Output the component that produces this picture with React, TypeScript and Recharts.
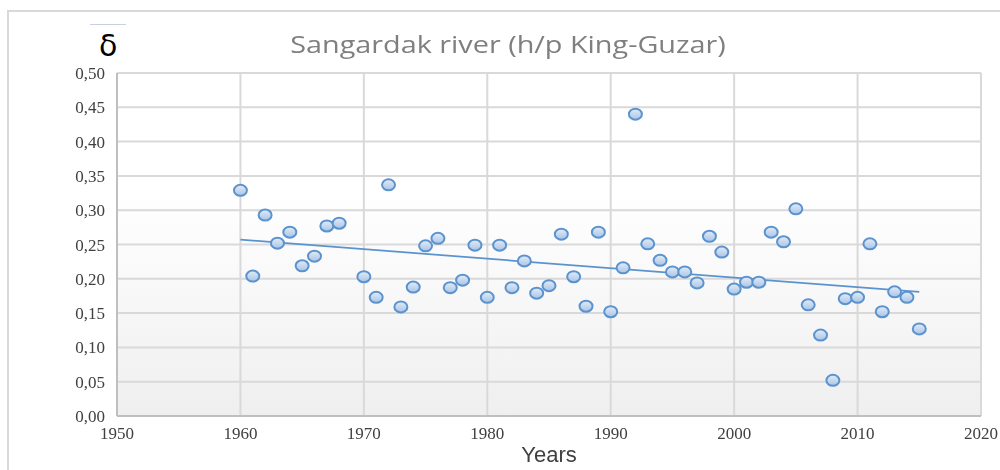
import { CartesianGrid, Scatter, ScatterChart, XAxis, YAxis } from 'recharts';

const years = [
  1960, 1961, 1962, 1963, 1964, 1965, 1966, 1967, 1968, 1970, 1971, 1972, 1973, 1974,
  1975, 1976, 1977, 1978, 1979, 1980, 1981, 1982, 1983, 1984, 1985, 1986, 1987, 1988,
  1989, 1990, 1991, 1992, 1993, 1994, 1995, 1996, 1997, 1998, 1999, 2000, 2001, 2002,
  2003, 2004, 2005, 2006, 2007, 2008, 2009, 2010, 2011, 2012, 2013, 2014, 2015,
];

const delta = [
  0.329, 0.204, 0.293, 0.252, 0.268, 0.219, 0.233, 0.277, 0.281, 0.203, 0.173, 0.337, 0.159, 0.188,
  0.248, 0.259, 0.187, 0.198, 0.249, 0.173, 0.249, 0.187, 0.226, 0.179, 0.19, 0.265, 0.203, 0.16,
  0.268, 0.152, 0.216, 0.44, 0.251, 0.227, 0.21, 0.21, 0.194, 0.262, 0.239, 0.185, 0.195, 0.195,
  0.268, 0.254, 0.302, 0.162, 0.118, 0.052, 0.171, 0.173, 0.251, 0.152, 0.181, 0.173, 0.127,
];

const xTicks = [1950, 1960, 1970, 1980, 1990, 2000, 2010, 2020];
const yTicks = [0, 0.05, 0.1, 0.15, 0.2, 0.25, 0.3, 0.35, 0.4, 0.45, 0.5];

const points = years.map((x, i) => ({ x, y: delta[i] }));

// linear trend (least squares), like the spreadsheet trendline
const n = years.length;
const mx = years.reduce((a, b) => a + b, 0) / n;
const my = delta.reduce((a, b) => a + b, 0) / n;
let sxy = 0;
let sxx = 0;
years.forEach((x, i) => {
  sxy += (x - mx) * (delta[i] - my);
  sxx += (x - mx) * (x - mx);
});
const slope = sxy / sxx;
const trend = [years[0], years[n - 1]].map((x) => ({ x, y: my + slope * (x - mx) }));

const Dot = (props: any) => {
  const { cx, cy } = props;
  if (cx == null || cy == null) return <g />;
  return (
    <ellipse cx={cx} cy={cy} rx={6.5} ry={5.5} fill="url(#dotFill)" stroke="#5b93cf" strokeWidth={2} />
  );
};

const tickStyle = { fill: '#404040', fontSize: 17, fontFamily: '"Liberation Serif", serif' };

export default function App() {
  return (
    <div style={{ position: 'fixed', left: 0, top: 0, width: 1000, height: 470, background: '#fff' }}>
      <div
        style={{
          position: 'absolute',
          left: 7,
          top: 10,
          width: 993,
          height: 460,
          borderTop: '2px solid #d9d9d9',
          borderLeft: '2px solid #d9d9d9',
        }}
      />
      <div style={{ position: 'absolute', left: 90, top: 24, width: 36, height: 1, background: '#c8d0e0' }} />
      <div
        style={{
          position: 'absolute',
          left: 99,
          top: 28,
          fontSize: 30,
          fontFamily: '"DejaVu Sans", sans-serif',
          color: '#000',
          lineHeight: '36px',
        }}
      >
        δ
      </div>
      <div
        style={{
          position: 'absolute',
          left: 0,
          width: 1016,
          top: 28,
          textAlign: 'center',
          fontSize: 24,
          fontFamily: '"Open Sans", sans-serif',
          color: '#7f7f7f',
          lineHeight: '32px',
          transform: 'scaleX(1.2)',
          transformOrigin: '508px 0',
        }}
      >
        Sangardak river (h/p King-Guzar)
      </div>
      <div
        style={{
          position: 'absolute',
          left: 0,
          width: 1098,
          top: 442,
          textAlign: 'center',
          fontSize: 22,
          fontFamily: '"Liberation Sans Narrow", "Liberation Sans", sans-serif',
          color: '#404040',
          lineHeight: '26px',
        }}
      >
        Years
      </div>
      <div style={{ position: 'absolute', left: 0, top: 0 }}>
        <ScatterChart width={1000} height={470} margin={{ top: 73, right: 19, bottom: 0, left: 0 }}>
          <defs>
            <linearGradient id="plotBg" x1="0" y1="0" x2="0" y2="1">
              <stop offset="0%" stopColor="#ffffff" />
              <stop offset="35%" stopColor="#ffffff" />
              <stop offset="100%" stopColor="#efefef" />
            </linearGradient>
            <linearGradient id="dotFill" x1="0" y1="0" x2="0" y2="1">
              <stop offset="0%" stopColor="#e3ecf8" />
              <stop offset="100%" stopColor="#a9c4e6" />
            </linearGradient>
          </defs>
          <CartesianGrid stroke="#d9d9d9" strokeWidth={2} fill="url(#plotBg)" />
          <XAxis
            type="number"
            dataKey="x"
            domain={[1950, 2020]}
            ticks={xTicks}
            interval={0}
            allowDataOverflow
            tickLine={false}
            tickSize={6}
            tickMargin={5}
            axisLine={{ stroke: '#bfbfbf', strokeWidth: 2 }}
            tick={tickStyle}
            height={54}
          />
          <YAxis
            type="number"
            dataKey="y"
            domain={[0, 0.5]}
            ticks={yTicks}
            interval={0}
            allowDataOverflow
            tickLine={false}
            tickSize={6}
            tickMargin={6}
            axisLine={{ stroke: '#bfbfbf', strokeWidth: 2 }}
            tick={tickStyle}
            tickFormatter={(v: number) => v.toFixed(2).replace('.', ',')}
            width={117}
          />
          <Scatter
            data={trend}
            line={{ stroke: '#5b93cf', strokeWidth: 1.75 }}
            shape={() => <g />}
            isAnimationActive={false}
          />
          <Scatter data={points} shape={<Dot />} isAnimationActive={false} />
        </ScatterChart>
      </div>
    </div>
  );
}
